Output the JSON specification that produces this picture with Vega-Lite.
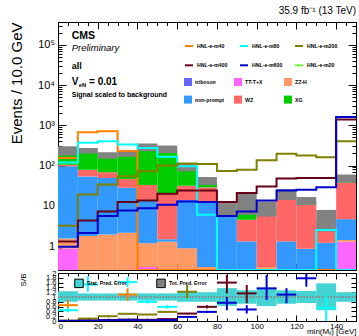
{
  "$schema": "https://vega.github.io/schema/vega-lite/v6.json",
  "padding": {"left": 8, "top": 6, "right": 2, "bottom": 0},
  "background": "white",
  "title": {"text": "35.9 fb⁻¹ (13 TeV)", "anchor": "end", "frame": "group", "fontSize": 10, "fontWeight": "normal", "font": "Liberation Sans", "color": "black", "offset": 3},
  "config": {
    "font": "Liberation Sans",
    "view": {"stroke": "black", "strokeWidth": 1},
    "axis": {"grid": false, "domainColor": "black", "tickColor": "black", "labelColor": "black", "titleColor": "black", "labelFont": "Liberation Sans", "titleFont": "Liberation Sans", "titleFontWeight": "normal", "tickWidth": 1, "domainWidth": 1},
    "legend": {"labelFont": "Liberation Sans", "labelColor": "black", "padding": 0}
  },
  "datasets": {
    "bg": [
      {"b":0,"e":10,"p":"triboson","v":0.03},{"b":0,"e":10,"p":"TT-T+X","v":0.84},{"b":0,"e":10,"p":"ZZ-H","v":0.66},{"b":0,"e":10,"p":"non-prompt","v":94.5},{"b":0,"e":10,"p":"WZ","v":9},{"b":0,"e":10,"p":"XG","v":130},
      {"b":10,"e":20,"p":"triboson","v":0.03},{"b":10,"e":20,"p":"TT-T+X","v":0.05},{"b":10,"e":20,"p":"ZZ-H","v":1.7},{"b":10,"e":20,"p":"non-prompt","v":52},{"b":10,"e":20,"p":"WZ","v":25},{"b":10,"e":20,"p":"XG","v":156},
      {"b":20,"e":30,"p":"triboson","v":0.03},{"b":20,"e":30,"p":"TT-T+X","v":0.05},{"b":20,"e":30,"p":"ZZ-H","v":1.85},{"b":20,"e":30,"p":"non-prompt","v":47},{"b":20,"e":30,"p":"WZ","v":19},{"b":20,"e":30,"p":"XG","v":110},
      {"b":30,"e":40,"p":"triboson","v":0.03},{"b":30,"e":40,"p":"TT-T+X","v":0.05},{"b":30,"e":40,"p":"ZZ-H","v":2.05},{"b":30,"e":40,"p":"non-prompt","v":26},{"b":30,"e":40,"p":"WZ","v":18},{"b":30,"e":40,"p":"XG","v":154},
      {"b":40,"e":50,"p":"triboson","v":0.03},{"b":40,"e":50,"p":"TT-T+X","v":0.27},{"b":40,"e":50,"p":"ZZ-H","v":0.87},{"b":40,"e":50,"p":"non-prompt","v":12.8},{"b":40,"e":50,"p":"WZ","v":19},{"b":40,"e":50,"p":"XG","v":247},
      {"b":50,"e":60,"p":"triboson","v":0.03},{"b":50,"e":60,"p":"TT-T+X","v":0.05},{"b":50,"e":60,"p":"ZZ-H","v":1.2},{"b":50,"e":60,"p":"non-prompt","v":0.19},{"b":50,"e":60,"p":"WZ","v":19.2},{"b":50,"e":60,"p":"XG","v":234},
      {"b":60,"e":70,"p":"triboson","v":0.03},{"b":60,"e":70,"p":"TT-T+X","v":0.02},{"b":60,"e":70,"p":"ZZ-H","v":0.83},{"b":60,"e":70,"p":"non-prompt","v":13.1},{"b":60,"e":70,"p":"WZ","v":17.6},{"b":60,"e":70,"p":"XG","v":58},
      {"b":70,"e":80,"p":"triboson","v":0.03},{"b":70,"e":80,"p":"TT-T+X","v":0.02},{"b":70,"e":80,"p":"ZZ-H","v":0.25},{"b":70,"e":80,"p":"non-prompt","v":12.5},{"b":70,"e":80,"p":"WZ","v":15.9},{"b":70,"e":80,"p":"XG","v":12},
      {"b":80,"e":90,"p":"triboson","v":0.03},{"b":80,"e":90,"p":"TT-T+X","v":0.02},{"b":80,"e":90,"p":"ZZ-H","v":0.05},{"b":80,"e":90,"p":"non-prompt","v":6.4},{"b":80,"e":90,"p":"WZ","v":0.8},{"b":80,"e":90,"p":"XG","v":0.6},
      {"b":90,"e":100,"p":"triboson","v":0.03},{"b":90,"e":100,"p":"TT-T+X","v":0.02},{"b":90,"e":100,"p":"ZZ-H","v":0.05},{"b":90,"e":100,"p":"non-prompt","v":1.2},{"b":90,"e":100,"p":"WZ","v":3.2},{"b":90,"e":100,"p":"XG","v":7},
      {"b":100,"e":110,"p":"triboson","v":0.03},{"b":100,"e":110,"p":"TT-T+X","v":0.02},{"b":100,"e":110,"p":"ZZ-H","v":0.25},{"b":100,"e":110,"p":"non-prompt","v":0},{"b":100,"e":110,"p":"WZ","v":7.7},{"b":100,"e":110,"p":"XG","v":0.4},
      {"b":110,"e":120,"p":"triboson","v":0.03},{"b":110,"e":120,"p":"TT-T+X","v":0.02},{"b":110,"e":120,"p":"ZZ-H","v":0.05},{"b":110,"e":120,"p":"non-prompt","v":1.2},{"b":110,"e":120,"p":"WZ","v":16.7},{"b":110,"e":120,"p":"XG","v":1},
      {"b":120,"e":130,"p":"triboson","v":0.03},{"b":120,"e":130,"p":"TT-T+X","v":0.02},{"b":120,"e":130,"p":"ZZ-H","v":0.05},{"b":120,"e":130,"p":"non-prompt","v":0.75},{"b":120,"e":130,"p":"WZ","v":9.8},{"b":120,"e":130,"p":"XG","v":2.4},
      {"b":130,"e":140,"p":"triboson","v":0.03},{"b":130,"e":140,"p":"TT-T+X","v":0.02},{"b":130,"e":140,"p":"ZZ-H","v":0.05},{"b":130,"e":140,"p":"non-prompt","v":1.1},{"b":130,"e":140,"p":"WZ","v":3},{"b":130,"e":140,"p":"XG","v":0.05},
      {"b":140,"e":150,"p":"triboson","v":0.03},{"b":140,"e":150,"p":"TT-T+X","v":1.25},{"b":140,"e":150,"p":"ZZ-H","v":0.13},{"b":140,"e":150,"p":"non-prompt","v":3.24},{"b":140,"e":150,"p":"WZ","v":33.4},{"b":140,"e":150,"p":"XG","v":9}
    ],
    "err": [
      {"b":0,"e":10,"lo":178,"hi":302},{"b":10,"e":20,"lo":200,"hi":275},{"b":20,"e":30,"lo":147,"hi":215},{"b":30,"e":40,"lo":165,"hi":235},
      {"b":40,"e":50,"lo":228,"hi":355},{"b":50,"e":60,"lo":206,"hi":316},{"b":60,"e":70,"lo":72,"hi":112},{"b":70,"e":80,"lo":33,"hi":52},
      {"b":80,"e":90,"lo":5.4,"hi":11.7},{"b":90,"e":100,"lo":6,"hi":22},{"b":100,"e":110,"lo":5.4,"hi":12.8},{"b":110,"e":120,"lo":14,"hi":26},
      {"b":120,"e":130,"lo":10.6,"hi":16.5},{"b":130,"e":140,"lo":2.3,"hi":7.9},{"b":140,"e":150,"lo":38,"hi":60}
    ],
    "sig": [
      {"s":"HNL-e-m40","x":0,"v":155},{"s":"HNL-e-m40","x":10,"v":680},{"s":"HNL-e-m40","x":20,"v":720},{"s":"HNL-e-m40","x":30,"v":230},{"s":"HNL-e-m40","x":40,"v":0},{"s":"HNL-e-m40","x":50,"v":0},{"s":"HNL-e-m40","x":60,"v":0},{"s":"HNL-e-m40","x":70,"v":0},{"s":"HNL-e-m40","x":80,"v":0},{"s":"HNL-e-m40","x":90,"v":0},{"s":"HNL-e-m40","x":100,"v":0},{"s":"HNL-e-m40","x":110,"v":0},{"s":"HNL-e-m40","x":120,"v":0},{"s":"HNL-e-m40","x":130,"v":0},{"s":"HNL-e-m40","x":140,"v":0},{"s":"HNL-e-m40","x":150,"v":0},
      {"s":"HNL-e-m80","x":0,"v":120},{"s":"HNL-e-m80","x":10,"v":370},{"s":"HNL-e-m80","x":20,"v":405},{"s":"HNL-e-m80","x":30,"v":335},{"s":"HNL-e-m80","x":40,"v":275},{"s":"HNL-e-m80","x":50,"v":165},{"s":"HNL-e-m80","x":60,"v":96},{"s":"HNL-e-m80","x":70,"v":6},{"s":"HNL-e-m80","x":80,"v":0},{"s":"HNL-e-m80","x":90,"v":0},{"s":"HNL-e-m80","x":100,"v":0},{"s":"HNL-e-m80","x":110,"v":0},{"s":"HNL-e-m80","x":120,"v":0},{"s":"HNL-e-m80","x":130,"v":2.5},{"s":"HNL-e-m80","x":140,"v":0},{"s":"HNL-e-m80","x":150,"v":0},
      {"s":"HNL-e-m200","x":0,"v":3.2},{"s":"HNL-e-m200","x":10,"v":19},{"s":"HNL-e-m200","x":20,"v":34},{"s":"HNL-e-m200","x":30,"v":54},{"s":"HNL-e-m200","x":40,"v":72},{"s":"HNL-e-m200","x":50,"v":101},{"s":"HNL-e-m200","x":60,"v":112},{"s":"HNL-e-m200","x":70,"v":110},{"s":"HNL-e-m200","x":80,"v":73},{"s":"HNL-e-m200","x":90,"v":79},{"s":"HNL-e-m200","x":100,"v":135},{"s":"HNL-e-m200","x":110,"v":196},{"s":"HNL-e-m200","x":120,"v":178},{"s":"HNL-e-m200","x":130,"v":162},{"s":"HNL-e-m200","x":140,"v":405},{"s":"HNL-e-m200","x":150,"v":405},
      {"s":"HNL-e-m400","x":0,"v":1.3},{"s":"HNL-e-m400","x":10,"v":4.3},{"s":"HNL-e-m400","x":20,"v":7.2},{"s":"HNL-e-m400","x":30,"v":12.4},{"s":"HNL-e-m400","x":40,"v":13.5},{"s":"HNL-e-m400","x":50,"v":20},{"s":"HNL-e-m400","x":60,"v":24},{"s":"HNL-e-m400","x":70,"v":24},{"s":"HNL-e-m400","x":80,"v":12.5},{"s":"HNL-e-m400","x":90,"v":20.8},{"s":"HNL-e-m400","x":100,"v":30},{"s":"HNL-e-m400","x":110,"v":48},{"s":"HNL-e-m400","x":120,"v":49},{"s":"HNL-e-m400","x":130,"v":49},{"s":"HNL-e-m400","x":140,"v":1400},{"s":"HNL-e-m400","x":150,"v":1400},
      {"s":"HNL-e-m600","x":0,"v":0.96},{"s":"HNL-e-m600","x":10,"v":2.1},{"s":"HNL-e-m600","x":20,"v":5.6},{"s":"HNL-e-m600","x":30,"v":7.6},{"s":"HNL-e-m600","x":40,"v":8.7},{"s":"HNL-e-m600","x":50,"v":10.6},{"s":"HNL-e-m600","x":60,"v":12.8},{"s":"HNL-e-m600","x":70,"v":12.4},{"s":"HNL-e-m600","x":80,"v":5.6},{"s":"HNL-e-m600","x":90,"v":7.2},{"s":"HNL-e-m600","x":100,"v":13.5},{"s":"HNL-e-m600","x":110,"v":24},{"s":"HNL-e-m600","x":120,"v":25},{"s":"HNL-e-m600","x":130,"v":29},{"s":"HNL-e-m600","x":140,"v":1620},{"s":"HNL-e-m600","x":150,"v":1620}
    ],
    "band": [
      {"b":0,"e":10,"lo":0.8,"hi":1.24},{"b":10,"e":20,"lo":0.85,"hi":1.15},{"b":20,"e":30,"lo":0.85,"hi":1.15},{"b":30,"e":40,"lo":0.85,"hi":1.15},
      {"b":40,"e":50,"lo":0.85,"hi":1.15},{"b":50,"e":60,"lo":0.85,"hi":1.15},{"b":60,"e":70,"lo":0.8,"hi":1.22},{"b":70,"e":80,"lo":0.8,"hi":1.2},
      {"b":80,"e":90,"lo":0.63,"hi":1.37},{"b":90,"e":100,"lo":0.72,"hi":1.28},{"b":100,"e":110,"lo":0.62,"hi":1.38},{"b":110,"e":120,"lo":0.72,"hi":1.28},
      {"b":120,"e":130,"lo":0.75,"hi":1.25},{"b":130,"e":140,"lo":0.45,"hi":1.57},{"b":140,"e":150,"lo":0.8,"hi":1.2}
    ],
    "ratio": [
      {"s":"HNL-e-m40","b":0,"e":10,"m":5,"r":0.66,"lo":0.45,"hi":0.88},
      {"s":"HNL-e-m40","b":30,"e":40,"m":35,"r":1.1,"lo":0.84,"hi":1.36},
      {"s":"HNL-e-m80","b":0,"e":10,"m":5,"r":0.45,"lo":0.36,"hi":0.55},
      {"s":"HNL-e-m80","b":10,"e":20,"m":15,"r":1.52,"lo":1.22,"hi":1.86},
      {"s":"HNL-e-m80","b":30,"e":40,"m":35,"r":1.62,"lo":1.42,"hi":1.82},
      {"s":"HNL-e-m80","b":40,"e":50,"m":45,"r":0.8,"lo":0.73,"hi":0.87},
      {"s":"HNL-e-m80","b":50,"e":60,"m":55,"r":0.59,"lo":0.52,"hi":0.66},
      {"s":"HNL-e-m80","b":130,"e":140,"m":135,"r":0.55,"lo":0,"hi":1.1},
      {"s":"HNL-e-m200","b":0,"e":10,"m":5,"r":0.015,"lo":0.01,"hi":0.02},
      {"s":"HNL-e-m200","b":10,"e":20,"m":15,"r":0.1,"lo":0.09,"hi":0.11},
      {"s":"HNL-e-m200","b":20,"e":30,"m":25,"r":0.2,"lo":0.18,"hi":0.22},
      {"s":"HNL-e-m200","b":30,"e":40,"m":35,"r":0.3,"lo":0.28,"hi":0.32},
      {"s":"HNL-e-m200","b":40,"e":50,"m":45,"r":0.27,"lo":0.25,"hi":0.29},
      {"s":"HNL-e-m200","b":50,"e":60,"m":55,"r":0.38,"lo":0.35,"hi":0.41},
      {"s":"HNL-e-m200","b":60,"e":70,"m":65,"r":1.22,"lo":0.95,"hi":1.5},
      {"s":"HNL-e-m400","b":0,"e":10,"m":5,"r":0.005,"lo":0.005,"hi":0.005},
      {"s":"HNL-e-m400","b":10,"e":20,"m":15,"r":0.02,"lo":0.02,"hi":0.02},
      {"s":"HNL-e-m400","b":20,"e":30,"m":25,"r":0.04,"lo":0.04,"hi":0.04},
      {"s":"HNL-e-m400","b":30,"e":40,"m":35,"r":0.06,"lo":0.06,"hi":0.06},
      {"s":"HNL-e-m400","b":40,"e":50,"m":45,"r":0.05,"lo":0.05,"hi":0.05},
      {"s":"HNL-e-m400","b":50,"e":60,"m":55,"r":0.08,"lo":0.08,"hi":0.08},
      {"s":"HNL-e-m400","b":60,"e":70,"m":65,"r":0.31,"lo":0.28,"hi":0.34},
      {"s":"HNL-e-m400","b":70,"e":80,"m":75,"r":0.59,"lo":0.52,"hi":0.66},
      {"s":"HNL-e-m400","b":80,"e":90,"m":85,"r":1.6,"lo":1.15,"hi":1.92},
      {"s":"HNL-e-m400","b":90,"e":100,"m":95,"r":1.15,"lo":0.74,"hi":1.5},
      {"s":"HNL-e-m600","b":0,"e":10,"m":5,"r":0.004,"lo":0.004,"hi":0.004},
      {"s":"HNL-e-m600","b":10,"e":20,"m":15,"r":0.01,"lo":0.01,"hi":0.01},
      {"s":"HNL-e-m600","b":20,"e":30,"m":25,"r":0.03,"lo":0.03,"hi":0.03},
      {"s":"HNL-e-m600","b":30,"e":40,"m":35,"r":0.04,"lo":0.04,"hi":0.04},
      {"s":"HNL-e-m600","b":40,"e":50,"m":45,"r":0.03,"lo":0.03,"hi":0.03},
      {"s":"HNL-e-m600","b":50,"e":60,"m":55,"r":0.04,"lo":0.04,"hi":0.04},
      {"s":"HNL-e-m600","b":60,"e":70,"m":65,"r":0.17,"lo":0.15,"hi":0.19},
      {"s":"HNL-e-m600","b":70,"e":80,"m":75,"r":0.38,"lo":0.33,"hi":0.43},
      {"s":"HNL-e-m600","b":80,"e":90,"m":85,"r":0.76,"lo":0.45,"hi":1.0},
      {"s":"HNL-e-m600","b":90,"e":100,"m":95,"r":0.48,"lo":0.31,"hi":0.66},
      {"s":"HNL-e-m600","b":100,"e":110,"m":105,"r":1.36,"lo":0.87,"hi":1.92},
      {"s":"HNL-e-m600","b":110,"e":120,"m":115,"r":1.1,"lo":0.74,"hi":1.37},
      {"s":"HNL-e-m600","b":120,"e":130,"m":125,"r":1.78,"lo":1.43,"hi":1.99}
    ]
  },
  "bounds": "flush",
  "spacing": 3,
  "resolve": {"scale": {"stroke": "independent", "fill": "independent"}},
  "vconcat": [
    {
      "width": 298,
      "height": 248,
      "resolve": {"axis": {"x": "independent", "y": "independent"}},
      "layer": [
        {
          "data": {"name": "bg"},
          "transform": [
            {"window": [{"op": "row_number", "as": "k"}]},
            {"stack": "v", "groupby": ["b"], "sort": [{"field": "k", "order": "ascending"}], "as": ["v0", "v1"]}
          ],
          "mark": {"type": "bar", "clip": true},
          "encoding": {
            "x": {"field": "b", "type": "quantitative", "scale": {"domain": [0, 150], "nice": false, "zero": false},
                  "axis": {"orient": "bottom", "values": [0,5,10,15,20,25,30,35,40,45,50,55,60,65,70,75,80,85,90,95,100,105,110,115,120,125,130,135,140,145,150], "labels": false, "title": null,
                           "tickSize": {"condition": {"test": "datum.value % 20 == 0", "value": -7}, "value": -3.5}}},
            "x2": {"field": "e"},
            "y": {"field": "v1", "type": "quantitative",
                  "scale": {"type": "log", "domain": [0.253, 373000], "clamp": true, "nice": false},
                  "axis": {"orient": "left", "values": [0.3,0.4,0.5,0.6,0.7,0.8,0.9,1,2,3,4,5,6,7,8,9,10,20,30,40,50,60,70,80,90,100,200,300,400,500,600,700,800,900,1000,2000,3000,4000,5000,6000,7000,8000,9000,10000,20000,30000,40000,50000,60000,70000,80000,90000,100000,200000,300000],
                           "labelExpr": "datum.value == 1 ? '1' : datum.value == 10 ? '10' : datum.value == 100 ? '10²' : datum.value == 1000 ? '10³' : datum.value == 10000 ? '10⁴' : datum.value == 100000 ? '10⁵' : ''",
                           "tickSize": {"condition": {"test": "indexof([1,10,100,1000,10000,100000], datum.value) >= 0", "value": -8}, "value": -4},
                           "labelPadding": 11.5, "labelFontSize": 11, "labelOverlap": false,
                           "title": "Events / 10.0 GeV", "titleFontSize": 15, "titleX": -37, "titleY": 0, "titleAngle": 270, "titleAlign": "right", "titleBaseline": "alphabetic"}},
            "y2": {"field": "v0"},
            "fill": {"field": "p", "type": "nominal",
                     "scale": {"domain": ["triboson", "TT-T+X", "ZZ-H", "non-prompt", "WZ", "XG"], "range": ["#6666ff", "#ff66ff", "#ff9966", "#3399ff", "#ff6666", "#00cc00"]},
                     "legend": {"orient": "none", "legendX": 126, "legendY": 56, "direction": "horizontal", "columns": 3, "gridAlign": "all", "symbolType": "square", "symbolSize": 64, "symbolStrokeWidth": 0, "labelFontSize": 5.2, "labelFontWeight": "bold", "labelOffset": 3, "columnPadding": 9, "rowPadding": 9.6, "title": null}}
          }
        },
        {
          "data": {"name": "err"},
          "mark": {"type": "bar", "color": "#828282", "clip": true},
          "encoding": {
            "x": {"field": "b", "type": "quantitative", "scale": {"domain": [0, 150], "nice": false, "zero": false},
                  "axis": {"orient": "top", "values": [0,5,10,15,20,25,30,35,40,45,50,55,60,65,70,75,80,85,90,95,100,105,110,115,120,125,130,135,140,145,150], "labels": false, "title": null,
                           "tickSize": {"condition": {"test": "datum.value % 20 == 0", "value": -7}, "value": -3.5}}},
            "x2": {"field": "e"},
            "y": {"field": "lo", "type": "quantitative", "scale": {"type": "log", "domain": [0.253, 373000], "clamp": true, "nice": false},
                  "axis": {"orient": "right", "values": [0.3,0.4,0.5,0.6,0.7,0.8,0.9,1,2,3,4,5,6,7,8,9,10,20,30,40,50,60,70,80,90,100,200,300,400,500,600,700,800,900,1000,2000,3000,4000,5000,6000,7000,8000,9000,10000,20000,30000,40000,50000,60000,70000,80000,90000,100000,200000,300000],
                           "labels": false, "title": null,
                           "tickSize": {"condition": {"test": "indexof([1,10,100,1000,10000,100000], datum.value) >= 0", "value": -8}, "value": -4}}},
            "y2": {"field": "hi"}
          }
        },
        {
          "data": {"name": "sig"},
          "mark": {"type": "line", "interpolate": "step-after", "strokeWidth": 2, "clip": true},
          "encoding": {
            "x": {"field": "x", "type": "quantitative", "axis": null},
            "y": {"field": "v", "type": "quantitative", "axis": null},
            "stroke": {"field": "s", "type": "nominal",
                       "scale": {"domain": ["HNL-e-m40", "HNL-e-m80", "HNL-e-m200", "HNL-e-m400", "HNL-e-m600", "HNL-e-m20"], "range": ["#ff8000", "#00ffff", "#808000", "#660018", "#0000cc", "#66ff33"]},
                       "legend": {"orient": "none", "legendX": 126, "legendY": 19, "direction": "horizontal", "columns": 3, "gridAlign": "all", "symbolType": "stroke", "symbolSize": 64, "symbolStrokeWidth": 2, "labelFontSize": 5.2, "labelFontWeight": "bold", "labelOffset": 3, "columnPadding": 8, "rowPadding": 10.3, "title": null}}
          }
        },
        {
          "data": {"values": [{"t": "CMS"}]},
          "mark": {"type": "text", "align": "left", "baseline": "alphabetic", "fontWeight": "bold", "fontSize": 10.5, "color": "black"},
          "encoding": {"x": {"datum": 6.9, "type": "quantitative", "axis": null}, "y": {"datum": 138700, "type": "quantitative", "axis": null}, "text": {"field": "t"}}
        },
        {
          "data": {"values": [{"t": "Preliminary"}]},
          "mark": {"type": "text", "align": "left", "baseline": "alphabetic", "fontStyle": "italic", "fontSize": 9.5, "color": "black"},
          "encoding": {"x": {"datum": 6.9, "type": "quantitative", "axis": null}, "y": {"datum": 69700, "type": "quantitative", "axis": null}, "text": {"field": "t"}}
        },
        {
          "data": {"values": [{"t": "all"}]},
          "mark": {"type": "text", "align": "left", "baseline": "alphabetic", "fontWeight": "bold", "fontSize": 9, "color": "black"},
          "encoding": {"x": {"datum": 6.9, "type": "quantitative", "axis": null}, "y": {"datum": 25300, "type": "quantitative", "axis": null}, "text": {"field": "t"}}
        },
        {
          "data": {"values": [{"t": "V"}]},
          "mark": {"type": "text", "align": "left", "baseline": "alphabetic", "fontWeight": "bold", "fontSize": 10, "color": "black"},
          "encoding": {"x": {"datum": 6.9, "type": "quantitative", "axis": null}, "y": {"datum": 10100, "type": "quantitative", "axis": null}, "text": {"field": "t"}}
        },
        {
          "data": {"values": [{"t": "eN"}]},
          "mark": {"type": "text", "align": "left", "baseline": "alphabetic", "fontWeight": "bold", "fontSize": 5.8, "color": "black", "dx": 7, "dy": 1.5},
          "encoding": {"x": {"datum": 6.9, "type": "quantitative", "axis": null}, "y": {"datum": 10100, "type": "quantitative", "axis": null}, "text": {"field": "t"}}
        },
        {
          "data": {"values": [{"t": "= 0.01"}]},
          "mark": {"type": "text", "align": "left", "baseline": "alphabetic", "fontWeight": "bold", "fontSize": 10, "color": "black", "dx": 17.3},
          "encoding": {"x": {"datum": 6.9, "type": "quantitative", "axis": null}, "y": {"datum": 10100, "type": "quantitative", "axis": null}, "text": {"field": "t"}}
        },
        {
          "data": {"values": [{"t": "Signal scaled to background"}]},
          "mark": {"type": "text", "align": "left", "baseline": "alphabetic", "fontWeight": "bold", "fontSize": 7, "color": "black"},
          "encoding": {"x": {"datum": 6.9, "type": "quantitative", "axis": null}, "y": {"datum": 5170, "type": "quantitative", "axis": null}, "text": {"field": "t"}}
        }
      ]
    },
    {
      "width": 298,
      "height": 48,
      "resolve": {"axis": {"x": "independent", "y": "independent"}},
      "layer": [
        {
          "data": {"name": "band"},
          "mark": {"type": "bar", "clip": true},
          "encoding": {
            "x": {"field": "b", "type": "quantitative", "scale": {"domain": [0, 150], "nice": false, "zero": false},
                  "axis": {"orient": "bottom", "values": [0,5,10,15,20,25,30,35,40,45,50,55,60,65,70,75,80,85,90,95,100,105,110,115,120,125,130,135,140,145,150],
                           "labelExpr": "datum.value % 20 == 0 ? datum.label : ''", "labelOverlap": false, "labelFontSize": 8, "labelPadding": 7, "tickSize": {"condition": {"test": "datum.value % 20 == 0", "value": -6}, "value": -3},
                           "title": "min(Mₗₗ) [GeV]", "titleFontSize": 8, "titleX": 298, "titleY": 12.5, "titleAlign": "right", "titleBaseline": "alphabetic"}},
            "x2": {"field": "e"},
            "y": {"field": "lo", "type": "quantitative", "scale": {"domain": [0, 2], "nice": false, "zero": false},
                  "axis": {"orient": "left", "values": [0, 0.2, 0.4, 0.6, 0.8, 1, 1.2, 1.4, 1.6, 1.8, 2], "format": "~g", "labelOverlap": false, "labelFontSize": 7.5, "labelPadding": 7, "tickSize": -5,
                           "title": "S/B", "titleFontSize": 8, "titleX": -32.5, "titleY": 0, "titleAngle": 270, "titleAlign": "right", "titleBaseline": "alphabetic"}},
            "y2": {"field": "hi"},
            "fill": {"datum": "Stat. Pred. Error", "type": "nominal",
                     "scale": {"domain": ["Stat. Pred. Error", "Tot. Pred. Error"], "range": ["#45d4d4", "#828282"]},
                     "legend": {"orient": "none", "legendX": 16, "legendY": 5, "direction": "horizontal", "columns": 2, "symbolType": "square", "symbolSize": 72, "symbolStrokeColor": "black", "symbolStrokeWidth": 1, "labelFontSize": 5.2, "labelFontWeight": "bold", "labelOffset": 3, "columnPadding": 27, "title": null}}
          }
        },
        {
          "data": {"values": [{}]},
          "mark": {"type": "rule", "color": "#888888", "strokeWidth": 2, "strokeDash": [1.5, 1.5]},
          "encoding": {"y": {"datum": 1, "type": "quantitative", "axis": null}}
        },
        {
          "data": {"name": "ratio"},
          "mark": {"type": "rule", "strokeWidth": 2, "clip": true},
          "encoding": {
            "x": {"field": "b", "type": "quantitative",
                  "axis": {"orient": "top", "values": [0,5,10,15,20,25,30,35,40,45,50,55,60,65,70,75,80,85,90,95,100,105,110,115,120,125,130,135,140,145,150], "labels": false, "title": null,
                           "tickSize": {"condition": {"test": "datum.value % 20 == 0", "value": -6}, "value": -3}}},
            "x2": {"field": "e"},
            "y": {"field": "r", "type": "quantitative",
                  "axis": {"orient": "right", "values": [0, 0.2, 0.4, 0.6, 0.8, 1, 1.2, 1.4, 1.6, 1.8, 2], "labels": false, "title": null, "tickSize": -5}},
            "stroke": {"field": "s", "type": "nominal",
                       "scale": {"domain": ["HNL-e-m40", "HNL-e-m80", "HNL-e-m200", "HNL-e-m400", "HNL-e-m600", "HNL-e-m20"], "range": ["#ff8000", "#00ffff", "#808000", "#660018", "#0000cc", "#66ff33"]},
                       "legend": null}
          }
        },
        {
          "data": {"name": "ratio"},
          "mark": {"type": "rule", "strokeWidth": 2, "clip": true},
          "encoding": {
            "x": {"field": "m", "type": "quantitative", "axis": null},
            "y": {"field": "lo", "type": "quantitative", "axis": null},
            "y2": {"field": "hi"},
            "stroke": {"field": "s", "type": "nominal",
                       "scale": {"domain": ["HNL-e-m40", "HNL-e-m80", "HNL-e-m200", "HNL-e-m400", "HNL-e-m600", "HNL-e-m20"], "range": ["#ff8000", "#00ffff", "#808000", "#660018", "#0000cc", "#66ff33"]},
                       "legend": null}
          }
        }
      ]
    }
  ]
}
